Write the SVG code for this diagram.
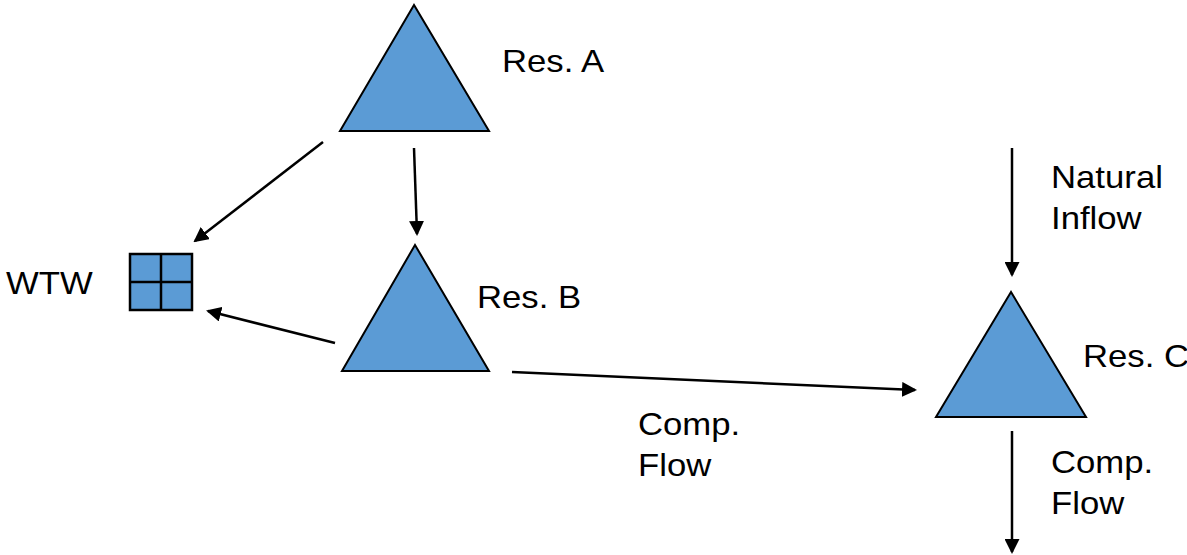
<svg xmlns="http://www.w3.org/2000/svg" width="1187" height="555" viewBox="0 0 1187 555">
  <style>
    .res { fill: #5b9bd5; stroke: #000; stroke-width: 2; stroke-linejoin: miter; }
    .grid { fill: #5b9bd5; stroke: #000; stroke-width: 2.5; }
    .flow { stroke: #000; stroke-width: 2.5; fill: none; marker-end: url(#head); }
    text { font-family: "Liberation Sans", Arial, sans-serif; font-size: 31px; fill: #000; }
  </style>
  <defs>
    <marker id="head" markerWidth="6" markerHeight="6" refX="5.2" refY="3" orient="auto" markerUnits="strokeWidth">
      <path d="M0,0 L6,3 L0,6 Z" fill="#000"/>
    </marker>
  </defs>
  <rect width="1187" height="555" fill="#fff"/>

  <g id="connectors">
    <line class="flow" x1="323" y1="142" x2="195" y2="241"/>
    <line class="flow" x1="414" y1="148" x2="417" y2="234"/>
    <line class="flow" x1="335" y1="343" x2="208" y2="311"/>
    <line class="flow" x1="512" y1="372" x2="915" y2="390"/>
    <line class="flow" x1="1012" y1="148" x2="1012" y2="275"/>
    <line class="flow" x1="1012" y1="431" x2="1012" y2="552"/>
  </g>

  <g id="res-a">
    <polygon class="res" points="414,5 340,131 489,131"/>
    <text transform="translate(502,72) scale(1.12,1)">Res. A</text>
  </g>

  <g id="res-b">
    <polygon class="res" points="415,245 342,371 489,371"/>
    <text transform="translate(477,308) scale(1.12,1)">Res. B</text>
  </g>

  <g id="res-c">
    <polygon class="res" points="1011,292 936,417 1086,417"/>
    <text transform="translate(1083,367) scale(1.12,1)">Res. C</text>
  </g>

  <g id="wtw">
    <rect class="grid" x="130" y="254" width="62" height="56"/>
    <line x1="161" y1="254" x2="161" y2="310" stroke="#000" stroke-width="2.5"/>
    <line x1="130" y1="282" x2="192" y2="282" stroke="#000" stroke-width="2.5"/>
    <text transform="translate(6,294) scale(1.12,1)">WTW</text>
  </g>

  <g id="natural-inflow">
    <text transform="translate(1051,188) scale(1.12,1)">Natural</text>
    <text transform="translate(1051,229) scale(1.12,1)">Inflow</text>
  </g>

  <g id="comp-flow-b-c">
    <text transform="translate(638,435) scale(1.12,1)">Comp.</text>
    <text transform="translate(638,476) scale(1.12,1)">Flow</text>
  </g>

  <g id="comp-flow-out">
    <text transform="translate(1051,473) scale(1.12,1)">Comp.</text>
    <text transform="translate(1051,514) scale(1.12,1)">Flow</text>
  </g>
</svg>
